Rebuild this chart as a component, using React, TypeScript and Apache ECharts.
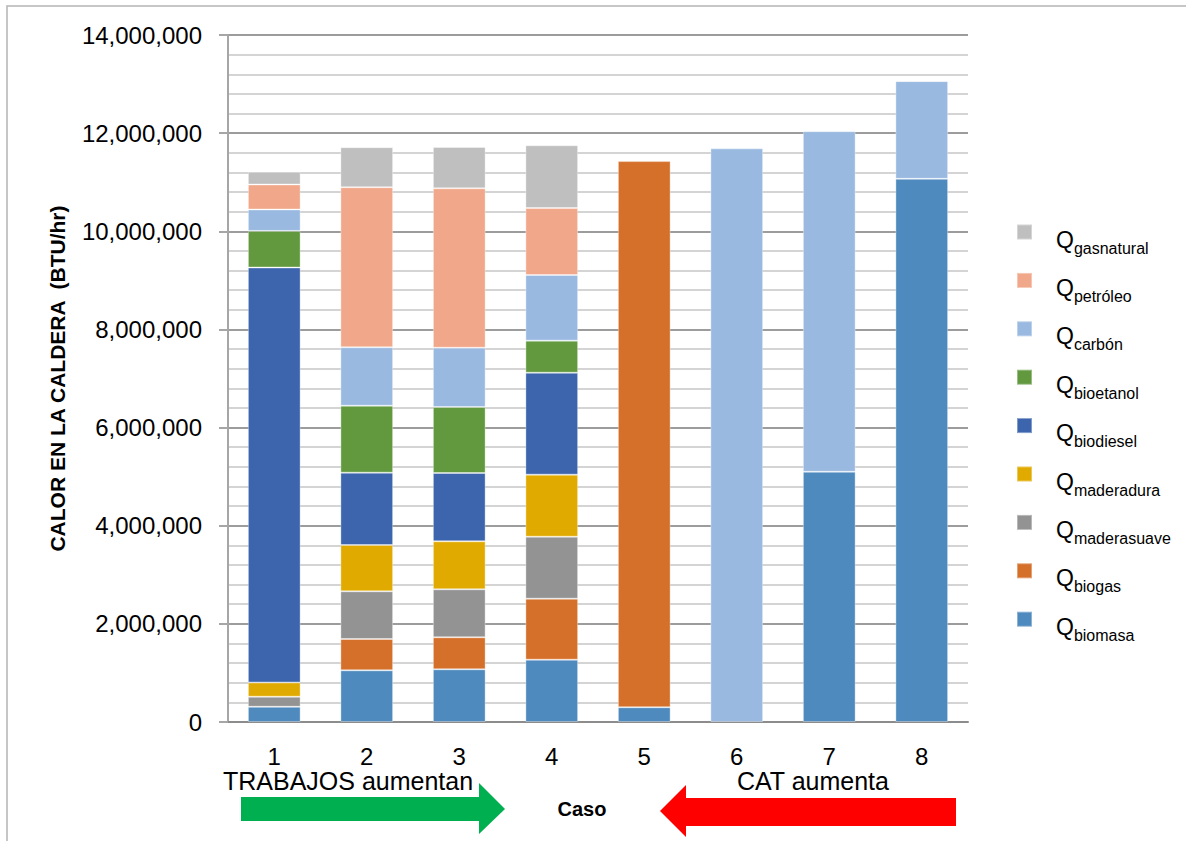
import React, { useEffect, useRef } from "react";
import * as echarts from "echarts";

const cases = ["1", "2", "3", "4", "5", "6", "7", "8"];
const yTicks = [0, 2000000, 4000000, 6000000, 8000000, 10000000, 12000000, 14000000];

// stacked from bottom to top
const biomasa = [310000, 1053000, 1074000, 1270000, 300000, 0, 5100000, 11070000];
const biogas = [0, 638000, 652000, 1243000, 11130000, 0, 0, 0];
const maderasuave = [205000, 972000, 978000, 1263000, 0, 0, 0, 0];
const maderadura = [290000, 944000, 978000, 1264000, 0, 0, 0, 0];
const biodiesel = [8457000, 1474000, 1392000, 2078000, 0, 0, 0, 0];
const bioetanol = [746000, 1365000, 1345000, 653000, 0, 0, 0, 0];
const carbon = [436000, 1190000, 1209000, 1338000, 0, 11690000, 6940000, 1990000];
const petroleo = [510000, 3261000, 3248000, 1366000, 0, 0, 0, 0];
const gasnatural = [257000, 815000, 842000, 1277000, 0, 0, 0, 0];

const seriesDefs = [
  { name: "biomasa", data: biomasa, color: "#4F8ABE" },
  { name: "biogas", data: biogas, color: "#D5702B" },
  { name: "maderasuave", data: maderasuave, color: "#939393" },
  { name: "maderadura", data: maderadura, color: "#E1AA00" },
  { name: "biodiesel", data: biodiesel, color: "#3C65AD" },
  { name: "bioetanol", data: bioetanol, color: "#62993E" },
  { name: "carbón", data: carbon, color: "#99B9E0" },
  { name: "petróleo", data: petroleo, color: "#F1A88A" },
  { name: "gasnatural", data: gasnatural, color: "#BFBFBF" },
];

const FONT = "'Liberation Sans', Arial, sans-serif";

export default function App() {
  const ref = useRef<HTMLDivElement>(null);
  useEffect(() => {
    if (!ref.current) return;
    const chart = echarts.init(ref.current, null, { renderer: "svg" });
    const option: any = {
      animation: false,
      backgroundColor: "#ffffff",
      textStyle: { fontFamily: FONT },
      grid: { left: 228, right: 218, top: 35, bottom: 119, containLabel: false },
      legend: {
        orient: "vertical",
        left: 1011,
        top: 203,
        itemWidth: 15,
        itemHeight: 15,
        itemGap: 0.4,
        icon: "rect",
        data: seriesDefs.map((s) => s.name).reverse(),
        formatter: (name: string) => `{q|Q}{s|${name}}`,
        textStyle: {
          lineHeight: 48,
          rich: {
            q: { fontSize: 23, fontFamily: FONT, color: "#000", verticalAlign: "top", lineHeight: 48, padding: [20, 0, 0, 19] },
            s: { fontSize: 16, fontFamily: FONT, color: "#000", verticalAlign: "top", lineHeight: 48, padding: [32, 0, 0, 0] },
          },
        },
      },
      xAxis: {
        type: "category",
        data: cases,
        axisTick: { show: false },
        axisLine: { lineStyle: { color: "#8C8C8C", width: 2 } },
        axisLabel: { fontSize: 24, color: "#000", margin: 22, fontFamily: FONT },
        splitLine: { show: false },
      },
      yAxis: {
        type: "value",
        min: yTicks[0],
        max: yTicks[yTicks.length - 1],
        interval: yTicks[1] - yTicks[0],
        name: "CALOR EN LA CALDERA  (BTU/hr)",
        nameLocation: "middle",
        nameGap: 160,
        nameTextStyle: { fontSize: 21, fontWeight: "bold", color: "#000", fontFamily: FONT },
        axisLine: { show: true, lineStyle: { color: "#A6A6A6", width: 2 } },
        axisTick: { show: true, length: 9, lineStyle: { color: "#A6A6A6", width: 2 } },
        axisLabel: {
          fontSize: 24,
          color: "#000",
          margin: 26,
          fontFamily: FONT,
          formatter: (v: number) => v.toLocaleString("en-US"),
        },
        splitLine: { show: true, lineStyle: { color: "#9C9C9C", width: 2 } },
        minorTick: { show: false, splitNumber: 5 },
        minorSplitLine: { show: true, lineStyle: { color: "#D4D4D4", width: 2 } },
      },
      series: seriesDefs.map((s) => ({
        name: s.name,
        type: "bar",
        stack: "total",
        barWidth: "57%",
        itemStyle: { color: s.color, borderColor: "rgba(255,255,255,0.35)", borderWidth: 1 },
        data: s.data.map((v) => (v === 0 ? "-" : v)),
      })),
      graphic: [
        {
          type: "rect",
          silent: true,
          z: -1,
          shape: { x: 7, y: 6, width: 1400, height: 1000 },
          style: { fill: "none", stroke: "#B4B4B4", lineWidth: 1.5 },
        },
        {
          type: "text",
          x: 223,
          y: 781,
          style: { text: "TRABAJOS aumentan", fontSize: 25, fontFamily: FONT, fill: "#000", textVerticalAlign: "middle", verticalAlign: "middle" },
        },
        {
          type: "text",
          x: 737,
          y: 781,
          style: { text: "CAT aumenta", fontSize: 25, fontFamily: FONT, fill: "#000", textVerticalAlign: "middle", verticalAlign: "middle" },
        },
        {
          type: "text",
          x: 582,
          y: 809,
          style: { text: "Caso", fontSize: 20, fontWeight: "bold", fontFamily: FONT, fill: "#000", align: "center", verticalAlign: "middle" },
        },
        {
          type: "polygon",
          shape: {
            points: [
              [241, 797], [479, 797], [479, 783], [505, 809], [479, 834], [479, 821], [241, 821],
            ],
          },
          style: { fill: "#00B050" },
        },
        {
          type: "polygon",
          shape: {
            points: [
              [956, 798], [686, 798], [686, 785], [660, 811], [686, 837], [686, 826], [956, 826],
            ],
          },
          style: { fill: "#FF0000" },
        },
      ],
    };
    chart.setOption(option);
    return () => chart.dispose();
  }, []);
  return (
    <div
      ref={ref}
      style={{ position: "fixed", left: 0, top: 0, width: 1186, height: 841, background: "#fff" }}
    />
  );
}
